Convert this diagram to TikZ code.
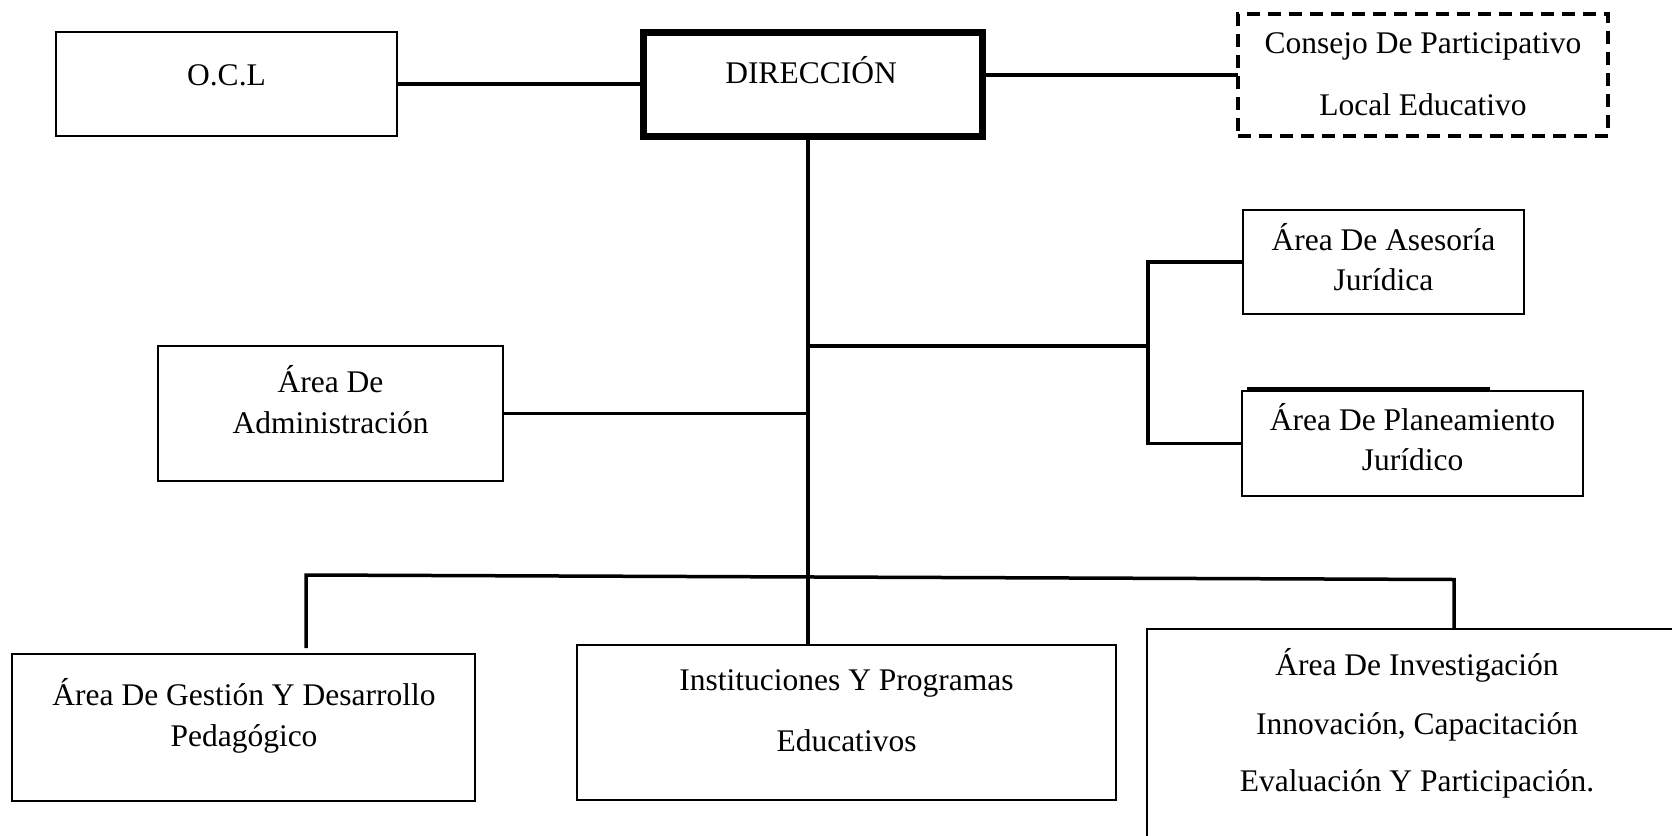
\documentclass[tikz,border=0pt]{standalone}
\usepackage{fontspec}
\setmainfont{Liberation Serif}
\begin{document}
\begin{tikzpicture}[x=1pt,y=-1pt,
  box/.style={draw=black, line width=2pt, fill=none, inner sep=0pt, outer sep=0pt},
  dirbox/.style={draw=black, line width=7pt, inner sep=0pt, outer sep=0pt},
  dashbox/.style={draw=black, line width=3.5pt, dash pattern=on 13pt off 8pt, inner sep=0pt, outer sep=0pt},
  conn/.style={draw=black, line width=3.5pt},
  txt/.style={anchor=base, inner sep=0pt, font=\fontsize{31.5pt}{38pt}\selectfont}]
\useasboundingbox (0,0) rectangle (1672,835);
\clip (0,0) rectangle (1672,835);
% boxes
\node[box, minimum width=341pt, minimum height=104pt] (ocl) at (226.5,84) {};
\node[dirbox, minimum width=338.5pt, minimum height=104pt] (dir) at (812.75,84.7) {};
\node[dashbox, minimum width=370pt, minimum height=122pt] (cons) at (1423,75) {};
\node[box, minimum width=281pt, minimum height=104pt] (ase) at (1383.5,262) {};
\node[box, minimum width=341pt, minimum height=105pt] (pla) at (1412.5,443.5) {};
\node[box, minimum width=345pt, minimum height=135pt] (adm) at (330.5,413.5) {};
\node[box, minimum width=463.5pt, minimum height=146.7pt] (gest) at (243.25,727.35) {};
\node[box, minimum width=539pt, minimum height=155pt] (inst) at (846.5,722.5) {};
\node[box, minimum width=540pt, minimum height=271pt] (inv) at (1417,764.5) {};
% texts
\node[txt] (tocl) at (226.5,85) {O.C.L};
\node[txt] (tdir) at (811,83.3) {DIRECCIÓN};
\node[txt] (tcons1) at (1423,53) {Consejo De Participativo};
\node[txt] (tcons2) at (1423,115) {Local Educativo};
\node[txt] (tase1) at (1383.5,250) {Área De Asesoría};
\node[txt] (tase2) at (1383.5,290) {Jurídica};
\node[txt] (tpla1) at (1412.5,430) {Área De Planeamiento};
\node[txt] (tpla2) at (1412.5,470) {Jurídico};
\node[txt] (tadm1) at (330.5,392) {Área De};
\node[txt] (tadm2) at (330.5,433) {Administración};
\node[txt] (tgest1) at (244,705) {Área De Gestión Y Desarrollo};
\node[txt] (tgest2) at (244,746.7) {Pedagógico};
\node[txt] (tinst1) at (846.5,690) {Instituciones Y Programas};
\node[txt] (tinst2) at (846.5,751.7) {Educativos};
\node[txt] (tinv1) at (1417,675) {Área De Investigación};
\node[txt] (tinv2) at (1417,734) {Innovación, Capacitación};
\node[txt] (tinv3) at (1417,791) {Evaluación Y Participación.};
% helper coordinates
\coordinate (tk) at (808,0);
\coordinate (brk) at (1148,346);
\coordinate (busL) at (306,575);
\coordinate (busR) at (1454,579.5);
\coordinate (gtop) at (306,648);
% connectors
\draw[conn] (ocl.east) -- (ocl.east -| dir.west);
\draw[conn] (cons.west -| dir.east) -- (cons.west);
\draw[conn] (tk |- dir.south) -- (tk |- inst.north);
\draw[conn] (adm.east) -- (adm.east -| tk);
\draw[conn] (tk |- brk) -- (brk);
\draw[conn] (ase.west) -| (pla.west -| brk) -- (pla.west);
\draw[conn] (gtop) -- (busL) -- (busR) -- (busR |- inv.north);
\draw[conn] ([shift={(5,-2)}]pla.north west) -- ([shift={(-93,-2)}]pla.north east);
\end{tikzpicture}
\end{document}
